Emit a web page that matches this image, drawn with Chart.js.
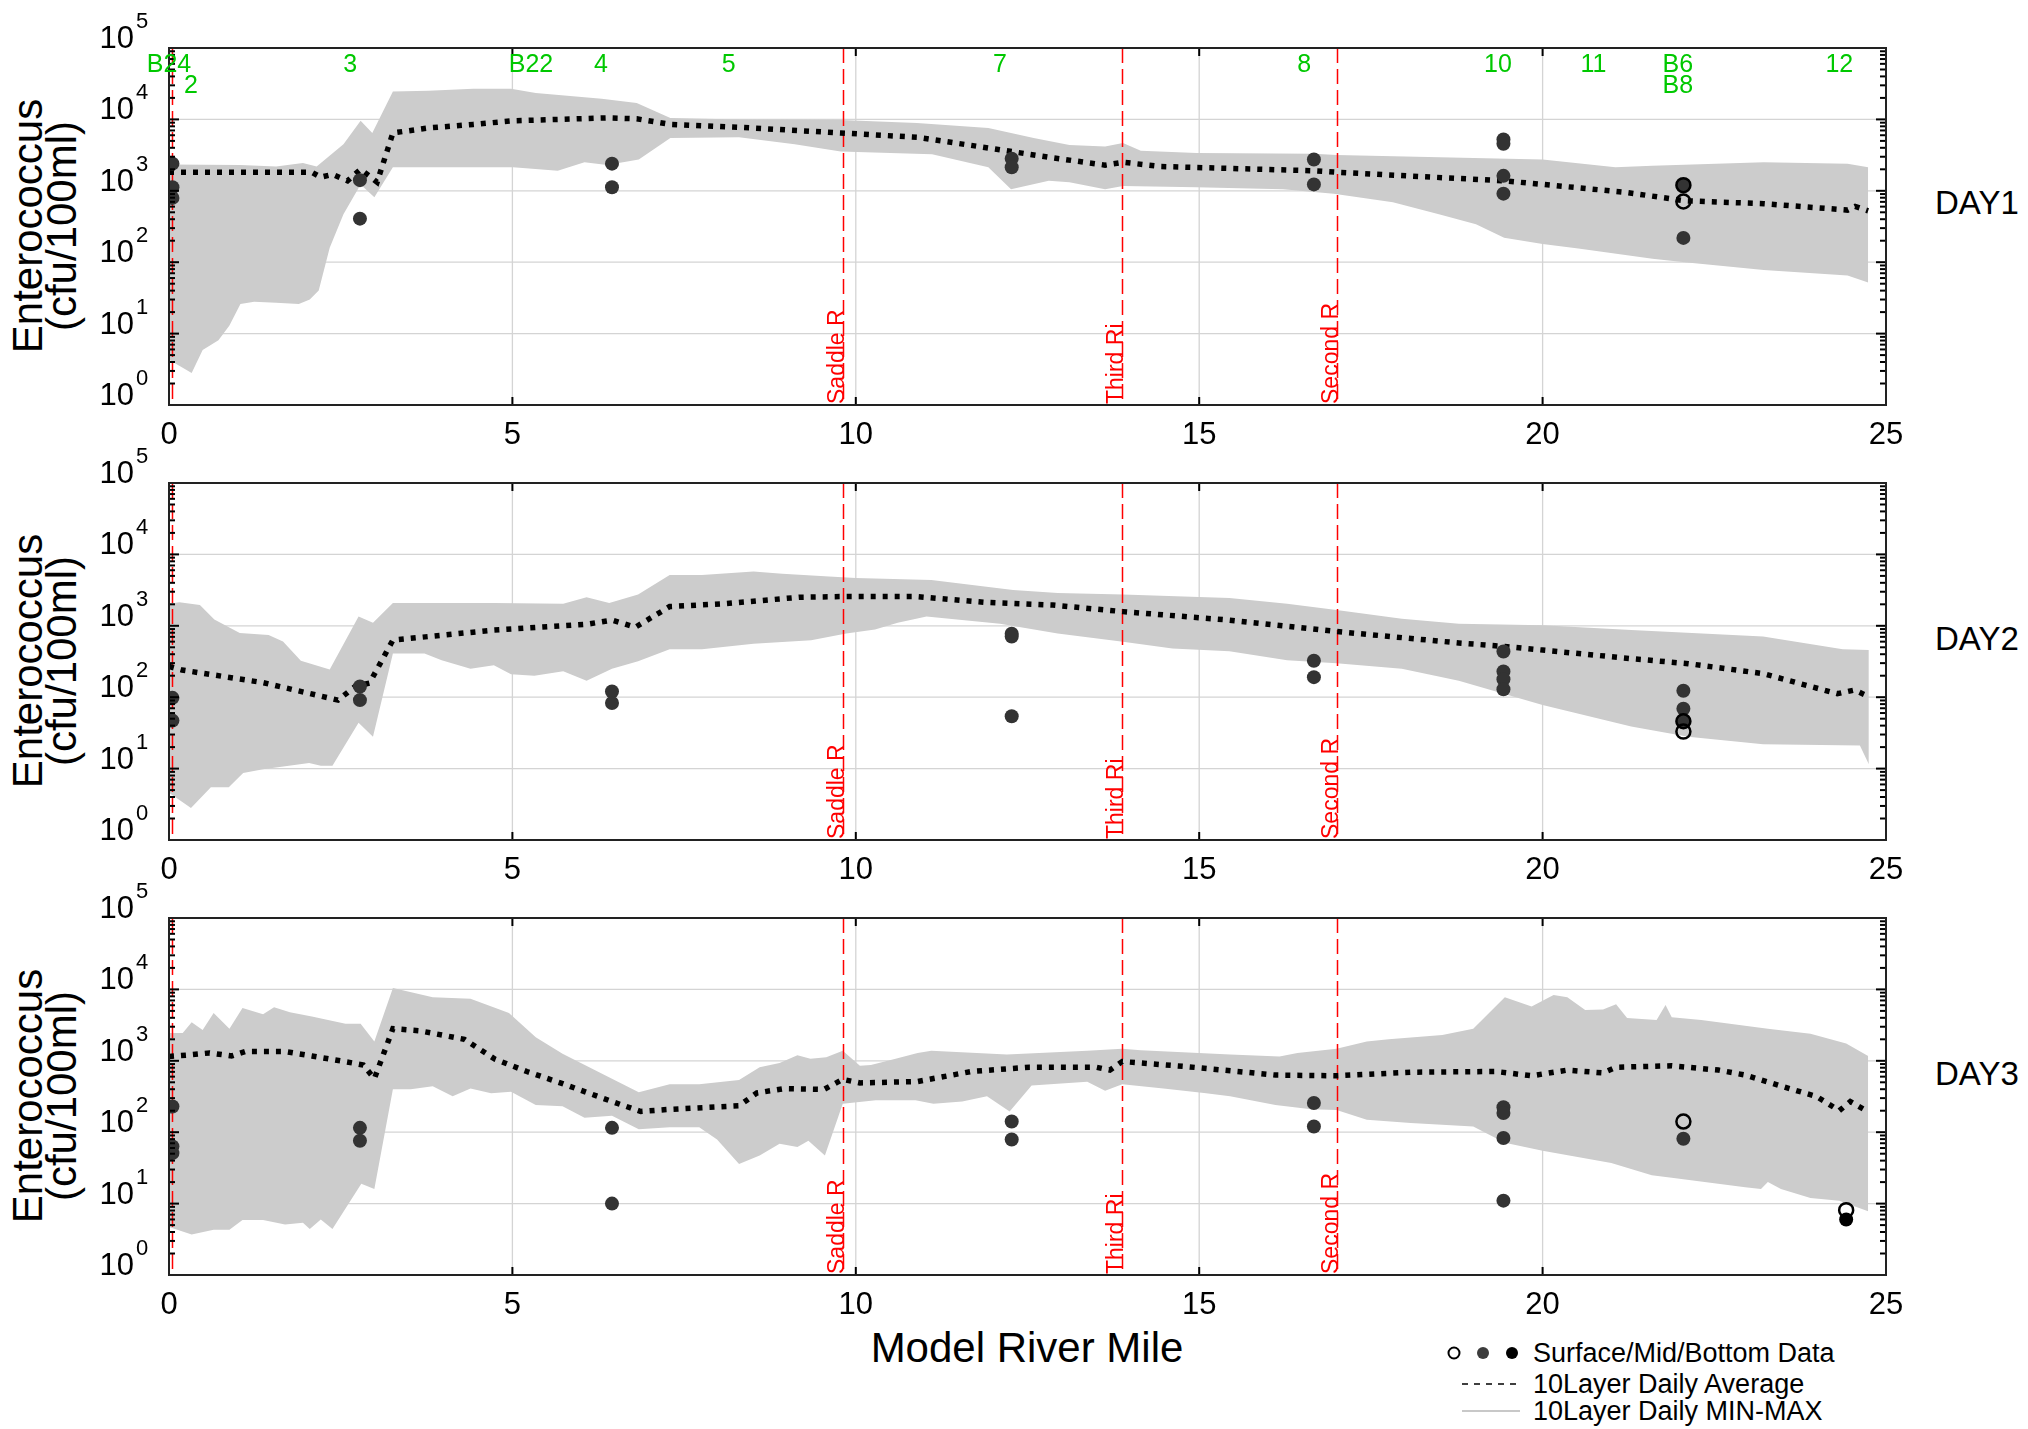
<!DOCTYPE html>
<html lang="en">
<head>
<meta charset="UTF-8">
<title>Enterococcus - Model River Mile</title>
<script src="https://cdn.jsdelivr.net/npm/chart.js"></script>
<style>
  body { margin: 0; background: #fff; font-family: "Liberation Sans", Arial, sans-serif; }
  #page { position: relative; width: 2028px; height: 1429px; overflow: hidden; background: #fff; }
  canvas { position: absolute; left: 0; top: 0; }
  .txt { position: absolute; white-space: nowrap; color: #000; line-height: 1; }
  .ytitle { font-size: 42px; line-height: 34px; text-align: center; transform: translate(-50%, -50%) rotate(-90deg); }
  .day { font-size: 33px; transform: translateY(-50%); }
  .xtitle { font-size: 42px; transform: translate(-50%, -50%); }
  .leg { font-size: 27px; transform: translateY(-50%); }
  svg { position: absolute; left: 0; top: 0; }
</style>
</head>
<body>
<div id="page">
  <div class="txt ytitle" style="left:45px; top:226px">Enterococcus<br>(cfu/100ml)</div>
  <div class="txt ytitle" style="left:45px; top:661px">Enterococcus<br>(cfu/100ml)</div>
  <div class="txt ytitle" style="left:45px; top:1096px">Enterococcus<br>(cfu/100ml)</div>
  <div class="txt day" style="left:1935px; top:202px">DAY1</div>
  <div class="txt day" style="left:1935px; top:638px">DAY2</div>
  <div class="txt day" style="left:1935px; top:1073px">DAY3</div>
  <div class="txt xtitle" style="left:1027px; top:1348px">Model River Mile</div>
  <div class="txt leg" style="left:1533px; top:1353px">Surface/Mid/Bottom Data</div>
  <div class="txt leg" style="left:1533px; top:1384px">10Layer Daily Average</div>
  <div class="txt leg" style="left:1533px; top:1411px">10Layer Daily MIN-MAX</div>
  <svg width="2028" height="1429">
    <circle cx="1454" cy="1353" r="5.5" fill="none" stroke="#000" stroke-width="2"/>
    <circle cx="1483" cy="1353" r="6" fill="#3c3c3c"/>
    <circle cx="1512" cy="1353" r="6" fill="#000"/>
    <line x1="1462" y1="1384" x2="1517" y2="1384" stroke="#000" stroke-width="1.5" stroke-dasharray="6 6"/>
    <line x1="1462" y1="1411" x2="1520" y2="1411" stroke="#c8c8c8" stroke-width="2"/>
  </svg>
</div>
<script>
// axis ticks and labels
var xTicks = [0, 5, 10, 15, 20, 25];
var yDecades = [0, 1, 2, 3, 4, 5];

// tributaries (red dashed lines)
var tribX = [0.04, 9.82, 13.87, 17.0];
var tribNames = ['', 'Saddle R', 'Third Ri', 'Second R'];

// station names along the top of DAY1
var stationNames = ['B24', '2', '3', 'B22', '4', '5', '7', '8', '10', '11', 'B6', 'B8', '12'];
var stationX = [0.0, 0.32, 2.64, 5.27, 6.29, 8.15, 12.1, 16.53, 19.35, 20.74, 21.97, 21.97, 24.32];
var stationRow = [0, 1, 0, 0, 0, 0, 0, 0, 0, 0, 0, 1, 0];

// DAY1 [river mile, cfu/100ml]
var day1Max = [[0,2340],[1.04,2290],[1.56,2190],[1.95,2450],[2.15,2190],[2.54,4470],[2.79,9550],[2.96,6460],[3.26,24500],[3.78,25100],[4.43,26900],[4.98,26900],[5.34,23400],[6.3,19500],[6.81,17000],[7.3,10500],[8.3,10000],[9.78,9770],[10.89,8910],[11.93,7590],[12.59,5500],[13.11,4370],[13.63,4170],[13.89,4680],[14.15,3630],[14.96,3390],[16.67,3310],[17.0,3160],[20.0,2750],[21.06,2140],[21.6,2240],[23.22,2510],[24.44,2400],[24.74,2140]];
var day1Min = [[0,4.3],[0.33,2.8],[0.49,5.9],[0.72,8.1],[0.88,13],[1.04,26],[1.24,28],[1.56,27],[1.89,26],[2.05,30],[2.18,40],[2.34,160],[2.54,470],[2.79,1230],[2.99,810],[3.26,2140],[5.01,2140],[5.66,1910],[6.05,2510],[6.38,2290],[6.84,2750],[7.3,5500],[8.3,5620],[9.11,4470],[9.78,3550],[11.11,3240],[11.93,2140],[12.26,1050],[12.81,1380],[13.11,1320],[13.63,1050],[13.89,1170],[14.96,1120],[16.22,1050],[16.96,910],[17.82,690],[18.49,470],[19.03,340],[19.44,220],[20.0,180],[20.52,155],[21.6,112],[22.07,100],[23.22,78],[24.44,65],[24.74,52]];
var day1Avg = [[0,1820],[2.08,1820],[2.21,1550],[2.38,1700],[2.6,1380],[2.79,2000],[3.03,1320],[3.26,6460],[3.78,7590],[4.43,8510],[5.0,9550],[6.38,10500],[6.81,10200],[7.3,8510],[8.3,7760],[9.78,6460],[10.89,5620],[11.93,3980],[12.81,2950],[13.63,2290],[13.89,2510],[14.44,2190],[16.67,1910],[17.0,1820],[19.44,1380],[20.0,1230],[21.2,955],[22.07,724],[23.22,661],[24.44,537],[24.55,603],[24.74,525]];
var day1Surface = [[22.05,1200],[22.05,708]];
var day1Mid = [[0.05,2400],[0.05,1120],[0.05,795],[2.78,1410],[2.78,407],[6.45,2400],[6.45,1120],[12.27,2820],[12.27,2140],[16.67,2750],[16.67,1230],[19.43,5250],[19.43,4570],[19.43,1620],[19.43,912],[22.05,1200],[22.05,219]];
var day1Bottom = [];

// DAY2
var day2Max = [[0,2040],[0.15,2140],[0.45,1950],[0.66,1230],[1.03,794],[1.45,741],[1.66,603],[1.92,324],[2.34,245],[2.76,1350],[2.97,1100],[3.26,2090],[4.73,2090],[5.74,2040],[6.08,2510],[6.41,2090],[6.83,2750],[7.29,5130],[7.76,5130],[8.51,5750],[8.93,5370],[9.61,4900],[10.0,4680],[11.1,4370],[12.29,3160],[12.94,2880],[13.89,2750],[15.44,2450],[16.28,2040],[17.0,1660],[17.95,1260],[18.78,1070],[20.0,1020],[21.29,871],[23.21,708],[24.37,468],[24.75,457]];
var day2Min = [[0,4.6],[0.32,2.8],[0.61,5.5],[0.87,5.5],[1.08,8.7],[1.37,9.8],[2.04,12],[2.21,11],[2.38,11],[2.76,44],[2.97,28],[3.26,410],[3.72,410],[3.97,330],[4.39,250],[4.73,280],[4.98,210],[5.32,200],[5.74,230],[6.08,170],[6.45,250],[6.83,320],[7.29,470],[7.76,470],[8.51,560],[9.35,630],[9.86,780],[10.28,890],[10.61,1100],[11.03,1350],[12.1,1070],[12.94,780],[13.89,600],[14.61,480],[15.44,440],[16.28,330],[17.0,300],[17.95,250],[18.78,170],[20.0,78],[21.29,39],[22.12,28],[23.21,22],[24.62,21],[24.75,11.5]];
var day2Avg = [[0,270],[0.19,240],[1.37,160],[2.46,91],[2.71,141],[2.92,158],[3.26,631],[4.73,871],[6.08,1050],[6.45,1200],[6.79,955],[7.29,1860],[8.09,2040],[9.18,2510],[9.84,2570],[10.87,2570],[11.87,2140],[12.87,1950],[13.89,1580],[15.44,1200],[17.0,832],[18.78,575],[19.45,513],[20.0,457],[21.29,347],[22.12,295],[23.21,214],[24.29,112],[24.54,126],[24.75,102]];
var day2Surface = [[22.05,46],[22.05,33]];
var day2Mid = [[0.05,98],[0.05,47],[2.78,141],[2.78,91],[6.45,120],[6.45,83],[12.27,776],[12.27,708],[12.27,54],[16.67,324],[16.67,191],[19.43,437],[19.43,229],[19.43,178],[19.43,129],[22.05,123],[22.05,69],[22.05,46]];
var day2Bottom = [];

// DAY3
var day3Max = [[0,2450],[0.2,2450],[0.33,3470],[0.49,2690],[0.65,4680],[0.88,2820],[1.07,5500],[1.37,4470],[1.53,5620],[1.76,4790],[2.08,4170],[2.57,3310],[2.79,3310],[2.99,1860],[3.26,10500],[3.84,7760],[4.39,7410],[4.95,4680],[5.34,2140],[5.73,1260],[6.45,562],[6.84,363],[7.29,468],[7.72,468],[8.3,537],[8.6,813],[8.89,933],[9.15,1200],[9.34,1070],[9.57,1120],[9.81,1380],[10.06,851],[10.22,871],[10.58,1070],[10.9,1290],[11.1,1380],[12.2,1230],[13.37,1380],[13.88,1480],[14.15,1410],[15.45,1230],[16.17,1150],[16.43,1290],[17.0,1480],[17.44,1860],[17.76,2000],[18.54,2290],[18.99,2820],[19.45,7760],[19.84,5750],[20.16,8320],[20.36,7760],[20.62,5130],[20.88,5250],[21.07,6170],[21.23,3980],[21.66,3720],[21.79,6030],[21.88,4070],[22.31,3720],[23.28,2820],[23.9,2400],[24.42,1740],[24.74,1170]];
var day3Min = [[0,4.7],[0.33,3.7],[0.65,4.3],[0.88,4.3],[1.07,5.9],[1.37,5.9],[1.69,5.1],[1.95,5.4],[2.05,4.4],[2.21,6.0],[2.38,4.4],[2.8,19],[2.99,16],[3.26,400],[3.52,400],[3.84,440],[4.13,320],[4.39,410],[4.69,350],[4.98,370],[5.34,240],[5.73,230],[6.05,160],[6.45,170],[6.84,110],[7.29,117],[7.72,117],[7.98,79],[8.3,36],[8.6,47],[8.89,69],[9.15,62],[9.31,76],[9.55,47],[9.81,250],[10.29,280],[10.87,280],[11.13,250],[11.55,270],[11.91,320],[12.24,195],[12.56,450],[13.37,510],[13.63,380],[13.88,470],[14.48,410],[15.07,355],[15.45,320],[16.11,240],[16.63,210],[17.0,205],[17.44,150],[18.08,135],[18.99,120],[19.45,71],[20.0,55],[21.0,37],[21.59,25],[21.88,23],[22.95,17],[23.18,16],[23.28,20],[23.47,16],[23.9,12],[24.32,11],[24.74,7.8]];
var day3Avg = [[0,1150],[0.26,1200],[0.59,1290],[0.91,1170],[1.11,1350],[1.69,1350],[2.08,1170],[2.67,933],[2.83,871],[2.99,562],[3.26,2820],[3.65,2630],[4.3,2000],[4.75,1050],[5.21,708],[5.73,479],[6.45,269],[6.87,195],[7.29,209],[8.3,234],[8.56,355],[8.95,407],[9.54,398],[9.81,550],[10.06,490],[10.9,513],[11.68,708],[12.53,813],[13.5,813],[13.7,741],[13.88,977],[14.8,832],[16.11,631],[17.0,617],[18.08,692],[19.32,708],[19.84,617],[20.36,741],[20.88,676],[21.07,813],[21.88,851],[22.56,741],[22.95,631],[23.6,407],[23.99,316],[24.32,200],[24.48,269],[24.68,209]];
var day3Surface = [[22.05,141],[24.42,8.1]];
var day3Mid = [[0.05,229],[0.05,63],[0.05,51],[2.78,115],[2.78,76],[6.45,115],[6.45,10],[12.27,141],[12.27,79],[16.67,257],[16.67,120],[19.43,224],[19.43,186],[19.43,83],[19.43,11],[22.05,81]];
var day3Bottom = [[24.42,6.0]];

var panels = [
  {max: day1Max, min: day1Min, avg: day1Avg, surf: day1Surface, mid: day1Mid, bot: day1Bottom},
  {max: day2Max, min: day2Min, avg: day2Avg, surf: day2Surface, mid: day2Mid, bot: day2Bottom},
  {max: day3Max, min: day3Min, avg: day3Avg, surf: day3Surface, mid: day3Mid, bot: day3Bottom}
];
var plotTop = [48, 483, 918];
var plotH = 357;
var plotLeft = 169, plotRight = 1886;

function pts(arr) {
  return arr.map(function (p) { return {x: p[0], y: p[1]}; });
}

function line(ctx, x1, y1, x2, y2) {
  ctx.beginPath(); ctx.moveTo(x1, y1); ctx.lineTo(x2, y2); ctx.stroke();
}

function framePlugin(k) {
  return {
    id: 'frame' + k,
    beforeDatasetsDraw: function (chart) {
      var ctx = chart.ctx, a = chart.chartArea, xs = chart.scales.x, ys = chart.scales.y;
      ctx.save();
      ctx.strokeStyle = '#d4d4d4';
      ctx.lineWidth = 1.3;
      xTicks.forEach(function (v) {
        var px = xs.getPixelForValue(v);
        line(ctx, px, a.top, px, a.bottom);
      });
      yDecades.forEach(function (e) {
        var py = ys.getPixelForValue(Math.pow(10, e));
        line(ctx, a.left, py, a.right, py);
      });
      ctx.restore();
    },
    afterDatasetDraw: function (chart, args) {
      if (args.index !== 1) return;
      var ctx = chart.ctx, a = chart.chartArea, xs = chart.scales.x;
      ctx.save();
      ctx.strokeStyle = '#ff0000';
      ctx.lineWidth = 1.5;
      ctx.setLineDash([15, 6]);
      tribX.forEach(function (v, i) {
        var px = Math.round(xs.getPixelForValue(v)) + 0.5;
        line(ctx, px, a.top, px, a.bottom);
      });
      ctx.setLineDash([]);
      ctx.fillStyle = '#ff0000';
      ctx.font = '23px "Liberation Sans", Arial, sans-serif';
      ctx.textAlign = 'left';
      ctx.textBaseline = 'alphabetic';
      tribX.forEach(function (v, i) {
        if (!tribNames[i]) return;
        var px = xs.getPixelForValue(v);
        ctx.save();
        ctx.translate(px + 1, a.bottom - 1);
        ctx.rotate(-Math.PI / 2);
        ctx.fillText(tribNames[i], 0, 0);
        ctx.restore();
      });
      ctx.restore();
    },
    afterDraw: function (chart) {
      var ctx = chart.ctx, a = chart.chartArea, xs = chart.scales.x, ys = chart.scales.y;
      ctx.save();
      // ticks
      ctx.strokeStyle = '#000';
      ctx.lineWidth = 2;
      yDecades.forEach(function (e) {
        var py = ys.getPixelForValue(Math.pow(10, e));
        line(ctx, a.left, py, a.left + 10, py);
        line(ctx, a.right, py, a.right - 10, py);
        if (e < 5) {
          for (var m = 2; m <= 9; m++) {
            var pm = ys.getPixelForValue(m * Math.pow(10, e));
            line(ctx, a.left, pm, a.left + 6, pm);
            line(ctx, a.right, pm, a.right - 6, pm);
          }
        }
      });
      xTicks.forEach(function (v) {
        var px = xs.getPixelForValue(v);
        line(ctx, px, a.bottom, px, a.bottom - 8);
        line(ctx, px, a.top, px, a.top + 8);
      });
      // frame
      ctx.strokeStyle = '#222';
      ctx.lineWidth = 2;
      ctx.strokeRect(a.left, a.top, a.right - a.left, a.bottom - a.top);
      // tick labels
      ctx.fillStyle = '#000';
      ctx.textBaseline = 'alphabetic';
      yDecades.forEach(function (e) {
        var py = ys.getPixelForValue(Math.pow(10, e));
        ctx.font = '31px "Liberation Sans", Arial, sans-serif';
        ctx.textAlign = 'right';
        ctx.fillText('10', a.left - 35, py);
        ctx.font = '22px "Liberation Sans", Arial, sans-serif';
        ctx.textAlign = 'left';
        ctx.fillText(String(e), a.left - 33, py - 20);
      });
      ctx.font = '31px "Liberation Sans", Arial, sans-serif';
      ctx.textAlign = 'center';
      ctx.textBaseline = 'middle';
      xTicks.forEach(function (v) {
        ctx.fillText(String(v), xs.getPixelForValue(v), a.bottom + 30);
      });
      // station names
      if (k === 0) {
        ctx.fillStyle = '#00c800';
        ctx.font = '25px "Liberation Sans", Arial, sans-serif';
        stationNames.forEach(function (s, i) {
          ctx.fillText(s, xs.getPixelForValue(stationX[i]), a.top + 17 + stationRow[i] * 21);
        });
      }
      ctx.restore();
    }
  };
}

var page = document.getElementById('page');
panels.forEach(function (p, k) {
  var cv = document.createElement('canvas');
  cv.width = 2028;
  cv.height = 1429;
  page.appendChild(cv);
  new Chart(cv, {
    type: 'line',
    data: {
      datasets: [
        {label: 'max', data: pts(p.max), fill: 1, backgroundColor: '#cccccc', borderColor: 'rgba(0,0,0,0)', borderWidth: 0, pointRadius: 0, order: 10},
        {label: 'min', data: pts(p.min), fill: false, borderColor: 'rgba(0,0,0,0)', borderWidth: 0, pointRadius: 0, order: 9},
        {label: '10Layer Daily Average', data: pts(p.avg), fill: false, borderColor: '#000', borderWidth: 5.5, borderDash: [5, 7], borderCapStyle: 'butt', pointRadius: 0, order: 5},
        {label: 'Surface', data: pts(p.surf), showLine: false, pointRadius: 7, pointBackgroundColor: 'rgba(0,0,0,0)', pointBorderColor: '#000', pointBorderWidth: 2.5, order: 1},
        {label: 'Mid', data: pts(p.mid), showLine: false, pointRadius: 7, pointBackgroundColor: '#333', pointBorderWidth: 0, order: 2},
        {label: 'Bottom', data: pts(p.bot), showLine: false, pointRadius: 7, pointBackgroundColor: '#000', pointBorderWidth: 0, order: 3}
      ]
    },
    options: {
      responsive: false,
      animation: false,
      devicePixelRatio: 1,
      events: [],
      layout: {padding: {left: plotLeft, right: 2028 - plotRight, top: plotTop[k], bottom: 1429 - plotTop[k] - plotH}},
      elements: {line: {tension: 0}},
      scales: {
        x: {type: 'linear', min: 0, max: 25, display: false},
        y: {type: 'logarithmic', min: 1, max: 100000, display: false}
      },
      plugins: {legend: {display: false}, tooltip: {enabled: false}}
    },
    plugins: [framePlugin(k)]
  });
});
</script>
</body>
</html>
